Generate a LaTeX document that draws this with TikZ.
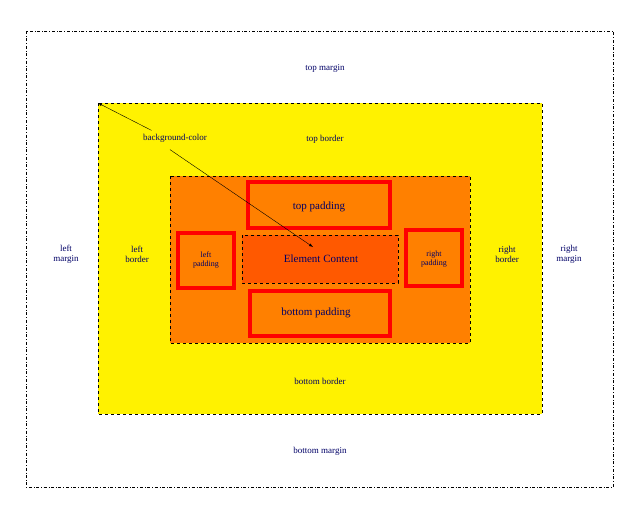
\documentclass[tikz,border=0pt]{standalone}
\usepackage{fontspec}
\setmainfont{Liberation Serif}
\begin{document}
\begin{tikzpicture}
  [x=1pt,y=-1pt,
   lbl/.style={text=blue!40!black,font=\fontsize{9}{10}\selectfont,align=center},
   pad/.style={draw=red,line width=4pt,fill=orange},
   box/.style={draw=black,dashed,thin}]
  \useasboundingbox (0,0) rectangle (637,520);
  \draw [dash dot,thin] (26,31) rectangle (613,487);
  \filldraw [box,fill=yellow] (98,103) rectangle (542,414);
  \filldraw [box,fill=orange] (170,176) rectangle (470,343);
  \filldraw [pad] (248,182) rectangle (390,228);
  \filldraw [pad] (178,233) rectangle (234,288);
  \filldraw [pad] (406,230) rectangle (462,286);
  \filldraw [pad] (250,291) rectangle (390,336);
  \filldraw [box,fill=orange!70!red] (242,235) rectangle (398,283);

  \coordinate (corner) at (98,103);
  \node (tm) at (325,68) [lbl] {top margin};
  \node (bm) at (320,451) [lbl] {bottom margin};
  \node (lm) at (66,254) [lbl] {left\\margin};
  \node (rm) at (569,254) [lbl] {right\\margin};
  \node (tb) at (325,139) [lbl] {top border};
  \node (bb) at (320,381) [lbl] {bottom border};
  \node (lb) at (137,254) [lbl] {left\\border};
  \node (rb) at (507,254) [lbl] {right\\border};
  \node (bg) at (175,138) [lbl] {background-color};
  \node (tp) at (319,207) [lbl,font=\fontsize{11}{12}\selectfont] {top padding};
  \node (bp) at (316,313) [lbl,font=\fontsize{11}{12}\selectfont] {bottom padding};
  \node (lp) at (206,260) [lbl,font=\fontsize{8}{9}\selectfont] {left\\padding};
  \node (rp) at (434,259) [lbl,font=\fontsize{8}{9}\selectfont] {right\\padding};
  \node (ec) at (321,259) [lbl,font=\fontsize{11}{12}\selectfont] {Element Content};
  \coordinate (target) at (313,247);

  \draw [-latex] (bg.north west) ++(12,0) to (corner);
  \draw [-latex] (bg.south) ++(-5,4) to (target);
\end{tikzpicture}
\end{document}
